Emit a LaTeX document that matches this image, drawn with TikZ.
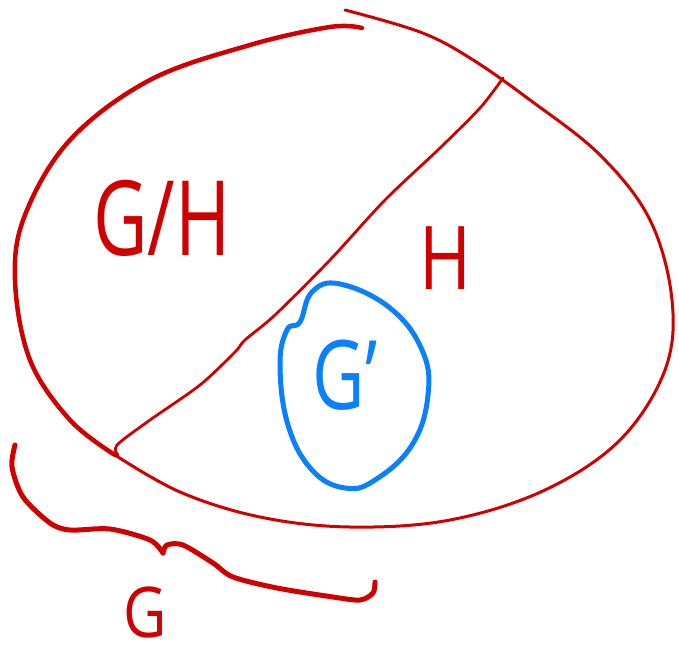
\documentclass[tikz,border=0pt]{standalone}
\usepackage{fontspec}
\setsansfont{Open Sans}
\usepackage{xcolor}
\definecolor{sketchRed}{HTML}{D10000}
\definecolor{sketchBlue}{HTML}{0A80FA}
\usepackage{tikz}

\begin{document}
\begin{tikzpicture}[
    x=1pt, y=-1pt,
    redStroke/.style={
        draw=sketchRed,
        line cap=round,
        line join=round,
        line width=#1
    },
    redStroke/.default=3pt,
    blueStroke/.style={
        draw=sketchBlue,
        line cap=round,
        line join=round,
        line width=5pt
    },
    sketchLabel/.style={
        text=#1,
        inner sep=0pt,
        font=\sffamily
    }
]
\useasboundingbox (0,0) rectangle (679,653);

% Group G: outer curve, thick left part
\draw[redStroke=4.5pt] plot[smooth, tension=0.6] coordinates {
    (362,28) (330,27) (250,45) (150,80) (70,140) (25,215) (15,280)
    (30,360) (70,420) (115,455)};
% lower and right part, thinner
\draw[redStroke=3pt] plot[smooth, tension=0.6] coordinates {
    (115,455) (180,492) (260,517) (350,527) (450,520) (545,490)
    (620,440) (665,370) (672,300) (650,220) (600,155) (530,100)
    (470,58) (420,32) (345,10)};

% Subgroup boundary
\draw[redStroke=2.8pt] plot[smooth, tension=0.5] coordinates {
    (118,455) (117,445) (150,420) (200,385) (235,352) (245,340)
    (275,315) (330,260) (385,200) (440,148) (480,108) (503,78)};

% Subgroup G'
\draw[blueStroke] plot[smooth cycle, tension=0.7] coordinates {
    (300,322) (312,292) (340,284) (390,308) (422,350) (428,395)
    (412,445) (375,480) (345,488) (312,470) (288,425) (280,365)
    (287,330)};

% Brace under G
\draw[redStroke=5pt] plot[smooth, tension=0.5] coordinates {
    (15,445) (12,467) (23,497) (50,523) (70,530) (110,529)
    (150,540) (163,553)};
\draw[redStroke=5pt] plot[smooth, tension=0.5] coordinates {
    (163,553) (167,545) (183,545) (213,563) (233,577) (277,588)
    (333,597) (360,600) (373,593) (375,582)};

% Labels
\node[sketchLabel=sketchRed] (quot) at (162,218)
    {\scalebox{0.72}[1]{\fontsize{104}{104}\selectfont G/H}};
\node[sketchLabel=sketchRed] (subH) at (445,258)
    {\scalebox{0.8}[1]{\fontsize{88}{88}\selectfont H}};
\node[sketchLabel=sketchBlue] (subG) at (345,375)
    {\scalebox{0.75}[1]{\fontsize{96}{96}\selectfont G'}};
\node[sketchLabel=sketchRed] (grpG) at (145,612)
    {\scalebox{0.85}[1]{\fontsize{70}{70}\selectfont G}};

\end{tikzpicture}
\end{document}
